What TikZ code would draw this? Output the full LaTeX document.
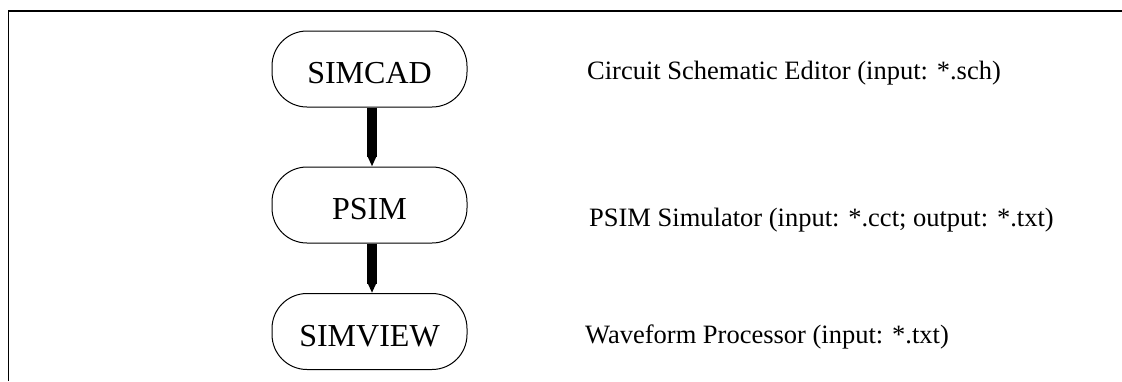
\documentclass[tikz,border=0pt]{standalone}
\usepackage{fontspec}
\setmainfont{Liberation Serif}
\usetikzlibrary{arrows.meta}
\begin{document}
\begin{tikzpicture}[x=1pt,y=-1pt,
  procbox/.style={draw,line width=1pt,rounded corners=35pt,minimum width=195pt,minimum height=76pt,
    inner sep=0pt,text height=29pt,text depth=0pt,font=\fontsize{32}{38}\selectfont},
  desc/.style={anchor=base west,inner sep=0pt,font=\fontsize{26.5}{31}\selectfont},
  flow/.style={line width=10pt,-{Triangle[width=8pt,length=10pt]}},
  frame/.style={line width=1.5pt}]
\useasboundingbox (0,0) rectangle (1122,381);
\coordinate (fl) at (8.5,381);
\coordinate (ftl) at (8.5,11);
\coordinate (ftr) at (1122,11);
\draw[frame] (fl) -- (ftl) -- (ftr);
\node[procbox] (simcad) at (369.5,69) {SIMCAD};
\node[procbox] (psim) at (369.5,205) {PSIM};
\node[procbox] (simview) at (369.5,331.5) {SIMVIEW};
\draw[flow] ([xshift=2.5pt]simcad.south) -- ([xshift=2.5pt]psim.north);
\draw[flow] ([xshift=2.5pt]psim.south) -- ([xshift=2.5pt]simview.north);
\node[desc] (d1) at (587,79) {Circuit Schematic Editor (input: *.sch)};
\node[desc] (d2) at (589,226.5) {PSIM Simulator (input: *.cct; output: *.txt)};
\node[desc] (d3) at (585,343) {Waveform Processor (input: *.txt)};
\end{tikzpicture}
\end{document}
